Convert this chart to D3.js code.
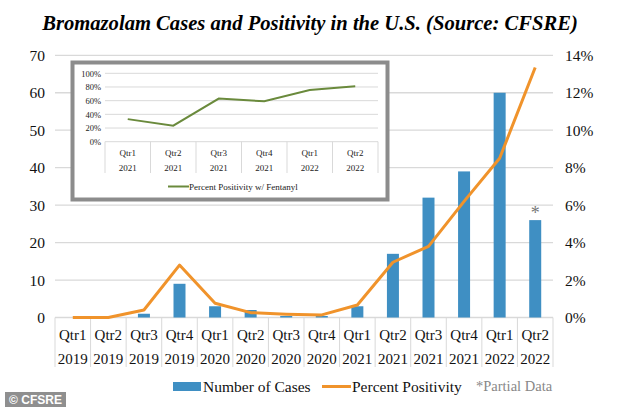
<!DOCTYPE html>
<html><head><meta charset="utf-8">
<script src="https://cdn.jsdelivr.net/npm/d3@7"></script>
<style>html,body{margin:0;padding:0;background:#fff;}svg{display:block;}</style>
</head><body>
<svg id="c" width="634" height="408"></svg>
<script>
const quarters = ["Qtr1","Qtr2","Qtr3","Qtr4","Qtr1","Qtr2","Qtr3","Qtr4","Qtr1","Qtr2","Qtr3","Qtr4","Qtr1","Qtr2"];
const years = ["2019","2019","2019","2019","2020","2020","2020","2020","2021","2021","2021","2021","2022","2022"];
const cases = [0,0,1,9,3,2,0.4,0.4,3,17,32,39,60,26];
const positivity = [0,0,0.4,2.8,0.76,0.26,0.18,0.14,0.67,2.95,3.8,6.2,8.5,13.35];
const leftTicks = [0,10,20,30,40,50,60,70];
const rightTicks = [0,2,4,6,8,10,12,14];
const insetQuarters = ["Qtr1","Qtr2","Qtr3","Qtr4","Qtr1","Qtr2"];
const insetYears = ["2021","2021","2021","2021","2022","2022"];
const insetFentanyl = [33,23.5,63,59,75.5,81];
const insetTicks = [0,20,40,60,80,100];

const svg = d3.select("#c");
const serif = "Liberation Serif";
const BAR = "#3f8fc3", ORANGE = "#f0932b", GREEN = "#6a8a3c", GRID = "#d9d9d9";

const L = 55, R = 553, T = 55.3, B = 317.5;
const idx = d3.range(quarters.length);
const x = d3.scaleBand().domain(idx).range([L, R]);
const yL = d3.scaleLinear().domain([0,70]).range([B, T]);
const yR = d3.scaleLinear().domain([0,14]).range([B, T]);

// title
svg.append("text").attr("x", 310).attr("y", 30).attr("text-anchor","middle")
  .attr("font-family", serif).attr("font-weight","bold").attr("font-style","italic")
  .attr("font-size", 20.6)
  .text("Bromazolam Cases and Positivity in the U.S. (Source: CFSRE)");

// gridlines
svg.append("g").selectAll("line").data(leftTicks).join("line")
  .attr("x1", L).attr("x2", R).attr("y1", d=>yL(d)).attr("y2", d=>yL(d))
  .attr("stroke", GRID).attr("stroke-width", 1.3);

// left axis labels
const la = svg.append("g").attr("transform", `translate(${L-10},0)`)
  .call(d3.axisLeft(yL).tickValues(leftTicks).tickSize(0).tickPadding(0));
la.select(".domain").remove();
la.selectAll("text").attr("font-family", serif).attr("font-size", 15.5).attr("fill","#111");

// right axis labels
const ra = svg.append("g").attr("transform", `translate(${R+12},0)`)
  .call(d3.axisRight(yR).tickValues(rightTicks).tickSize(0).tickPadding(0).tickFormat(d=>d+"%"));
ra.select(".domain").remove();
ra.selectAll("text").attr("font-family", serif).attr("font-size", 15.5).attr("fill","#111");

// category separators
svg.append("g").selectAll("line").data(d3.range(quarters.length+1)).join("line")
  .attr("x1", d=>L + d*x.step()).attr("x2", d=>L + d*x.step())
  .attr("y1", B).attr("y2", 367).attr("stroke", GRID).attr("stroke-width", 1);

// category labels
const cl = svg.append("g").attr("font-family", serif).attr("font-size", 15).attr("fill","#111").attr("text-anchor","middle");
cl.selectAll("text.q").data(idx).join("text").attr("class","q")
  .attr("x", d=>x(d)+x.bandwidth()/2).attr("y", 340).text(d=>quarters[d]);
cl.selectAll("text.yr").data(idx).join("text").attr("class","yr")
  .attr("x", d=>x(d)+x.bandwidth()/2).attr("y", 364).text(d=>years[d]);

// bars
const bw = 12;
svg.append("g").selectAll("rect").data(idx).join("rect")
  .attr("x", d=>x(d)+x.bandwidth()/2 - bw/2).attr("width", bw)
  .attr("y", d=>yL(cases[d])).attr("height", d=>B - yL(cases[d]))
  .attr("fill", BAR);

// asterisk
svg.append("text").attr("x", x(13)+x.bandwidth()/2).attr("y", yL(cases[13]) - 1)
  .attr("text-anchor","middle").attr("font-family", serif).attr("font-size", 18).attr("fill","#777").text("*");

// line
svg.append("path").datum(idx)
  .attr("d", d3.line().x(d=>x(d)+x.bandwidth()/2).y(d=>yR(positivity[d])))
  .attr("fill","none").attr("stroke", ORANGE).attr("stroke-width", 3).attr("stroke-linejoin","round");

// legend
const lg = svg.append("g").attr("font-family", serif).attr("font-size", 15.5);
lg.append("rect").attr("x", 173).attr("y", 382).attr("width", 28).attr("height", 9).attr("fill", BAR);
lg.append("text").attr("x", 203).attr("y", 392).attr("fill","#111").text("Number of Cases");
lg.append("line").attr("x1", 322).attr("x2", 351).attr("y1", 386.5).attr("y2", 386.5).attr("stroke", ORANGE).attr("stroke-width", 3);
lg.append("text").attr("x", 352).attr("y", 392).attr("fill","#111").text("Percent Positivity");
lg.append("text").attr("x", 476).attr("y", 391).attr("fill","#888").attr("font-size", 14.5).text("*Partial Data");

// inset
const ins = svg.append("g");
ins.append("rect").attr("x", 72.5).attr("y", 62.5).attr("width", 315).attr("height", 137)
  .attr("fill","#fff").attr("stroke","#8c8c8c").attr("stroke-width", 4);
const iL = 105, iR = 378, iT = 73.3, iB = 141.7;
const ix = d3.scaleBand().domain(d3.range(insetQuarters.length)).range([iL, iR]);
const iy = d3.scaleLinear().domain([0,100]).range([iB, iT]);
ins.append("g").selectAll("line").data(insetTicks).join("line")
  .attr("x1", iL).attr("x2", iR).attr("y1", d=>iy(d)).attr("y2", d=>iy(d))
  .attr("stroke", GRID).attr("stroke-width", 1);
const ia = ins.append("g").attr("transform", `translate(${iL-4},0)`)
  .call(d3.axisLeft(iy).tickValues(insetTicks).tickSize(0).tickPadding(0).tickFormat(d=>d+"%"));
ia.select(".domain").remove();
ia.selectAll("text").attr("font-family", serif).attr("font-size", 8.5).attr("fill","#222");
ins.append("g").selectAll("line").data(d3.range(insetQuarters.length+1)).join("line")
  .attr("x1", d=>iL + d*ix.step()).attr("x2", d=>iL + d*ix.step())
  .attr("y1", iB).attr("y2", 173).attr("stroke", GRID).attr("stroke-width", 1);
const icl = ins.append("g").attr("font-family", serif).attr("font-size", 9).attr("fill","#222").attr("text-anchor","middle");
icl.selectAll("text.q").data(d3.range(insetQuarters.length)).join("text").attr("class","q")
  .attr("x", d=>ix(d)+ix.bandwidth()/2).attr("y", 156).text(d=>insetQuarters[d]);
icl.selectAll("text.yr").data(d3.range(insetQuarters.length)).join("text").attr("class","yr")
  .attr("x", d=>ix(d)+ix.bandwidth()/2).attr("y", 171).text(d=>insetYears[d]);
ins.append("path").datum(d3.range(insetQuarters.length))
  .attr("d", d3.line().x(d=>ix(d)+ix.bandwidth()/2).y(d=>iy(insetFentanyl[d])))
  .attr("fill","none").attr("stroke", GREEN).attr("stroke-width", 2);
ins.append("line").attr("x1", 168).attr("x2", 189).attr("y1", 186.5).attr("y2", 186.5).attr("stroke", GREEN).attr("stroke-width", 2);
ins.append("text").attr("x", 189).attr("y", 189.5).attr("font-family", serif).attr("font-size", 9).attr("fill","#222").text("Percent Positivity w/ Fentanyl");

// badge
svg.append("rect").attr("x", 5).attr("y", 392).attr("width", 61).attr("height", 15).attr("fill","#8f8f8f");
svg.append("text").attr("x", 35.5).attr("y", 404).attr("text-anchor","middle")
  .attr("font-family","Liberation Sans").attr("font-weight","bold").attr("font-size", 12)
  .attr("fill","#fff").text("© CFSRE");
</script>
</body></html>
